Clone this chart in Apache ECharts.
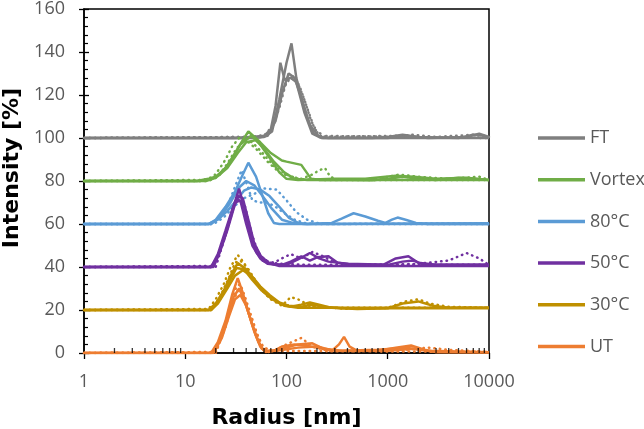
<!DOCTYPE html>
<html><head><meta charset="utf-8">
<script src="https://cdn.jsdelivr.net/npm/echarts@6/dist/echarts.min.js"></script>
<style>html,body{margin:0;padding:0;background:#fff}#c{width:644px;height:429px}</style>
</head><body><div id="c"></div>
<script>
// ---- Data (radius nm, plotted intensity incl. vertical offset) ----
const legendNames = ['FT','Vortex','80°C','50°C','30°C','UT'];
const xTicks = [1,10,100,1000,10000];
const minorTickPos = [2,3,4,5,6,7,8,9,20,30,40,50,60,70,80,90,200,300,400,500,600,700,800,900,2000,3000,4000,5000,6000,7000,8000,9000];

// FT (offset 100)
const ft_a = [[1,100],[30,100],[45,100.5],[60,101],[70,104],[78,115],[87,135],[96,127],[110,128],[125,126],[150,112],[180,102],[220,100],[700,100],[1000,100.5],[1400,101.5],[2000,100.5],[5000,100],[7000,101.5],[9000,101],[10000,100]];
const ft_b = [[1,100],[40,100],[60,100.5],[72,103],[85,118],[100,135],[112,144],[125,128],[150,113],[185,102],[230,100],[1000,100],[1500,101],[2500,100],[6000,100.5],[8000,102],[10000,100.5]];
const ft_c = [[1,100],[50,100],[65,101],[78,108],[92,122],[105,130],[120,128],[140,119],[170,106],[210,100.5],[260,100],[10000,100]];
const ft_d = [[1,100],[45,100.5],[62,101.5],[76,107],[90,120],[102,127],[118,129],[135,124],[160,114],[190,104],[240,100.5],[1200,101],[1800,101.5],[3000,100.5],[7000,101.5],[10000,100.5]];
const ft_e = [[1,100],[55,100.5],[70,103],[85,114],[98,125],[110,128],[128,126],[150,118],[175,108],[210,101],[10000,100]];

// Vortex (offset 80)
const vo_a = [[1,80],[13,80],[17,81],[20,82],[25,86],[31,93],[37,99],[42,103],[55,98],[70,93],[90,89.5],[100,89],[140,87.5],[175,81],[220,80.5],[400,80.5],[700,80.3],[1000,81],[1400,82],[2000,81],[3000,80.5],[5000,81.5],[7000,81],[10000,80.5]];
const vo_b = [[1,80],[14,80],[18,81],[22,83],[28,89],[35,97],[45,101],[55,97],[70,90],[85,84],[100,81],[130,80.5],[300,81],[600,81],[1200,82.5],[1800,82],[3000,81],[6000,81.5],[10000,80.5]];
const vo_c = [[1,80],[16,80],[20,81.5],[26,86],[33,93],[40,98],[50,99],[60,95],[75,89],[95,84],[120,81],[160,80.5],[10000,80.5]];
const vo_d = [[1,80],[15,80.5],[19,82],[22,86],[25,90],[29,96],[34,100],[40,99],[50,95],[65,89],[85,84],[110,82],[140,81],[180,83],[210,85],[240,86],[270,82],[320,80.5],[800,81],[1300,83],[2000,82],[4000,81],[8000,82],[10000,80.5]];
const vo_e = [[1,80],[17,80],[21,82],[26,88],[32,95],[38,99],[46,98],[58,93],[75,87],[100,83],[130,81],[200,80.5],[10000,80.5]];

// 80°C (offset 60)
const c80_a = [[1,60],[17,60],[20,62],[25,68],[31,75],[37,83],[42,88.5],[50,82],[58,73],[66,65],[75,60.5],[85,60],[10000,60]];
const c80_b = [[1,60],[17,60],[21,62],[26,66],[32,71],[38,75.5],[45,77],[55,76],[68,73],[85,68],[105,63],[130,60.5],[160,60],[280,60.5],[350,62.5],[460,65],[600,63.5],[800,61.5],[950,60.5],[1100,62],[1250,63],[1500,62],[1900,60.5],[2500,60],[10000,60]];
const c80_c = [[1,60],[18,60],[22,63],[28,70],[34,77],[40,80],[48,78],[58,73],[72,67],[90,62],[115,60.5],[150,60],[10000,60.3]];
const c80_d = [[1,60],[18,60],[22,63],[27,70],[32,79],[36,85],[41,78],[46,71],[55,70],[65,70],[78,68],[95,65],[120,62],[150,60.5],[200,60],[10000,60.3]];
const c80_e = [[1,60],[19,60],[24,63],[30,68],[38,72],[48,74],[60,76.5],[80,76],[100,71],[125,65.5],[160,62],[200,60.5],[260,60],[10000,60]];

// 50°C (offset 40)
const c50_a = [[1,40],[18,40],[21,45],[25,55],[29,66],[34,76.5],[38,68],[43,57],[50,47],[58,43],[70,41.5],[90,41],[110,42.5],[140,45],[170,43],[200,44.5],[260,45],[320,42],[450,41],[900,41],[1200,44],[1600,45],[2000,42],[3000,41],[10000,41]];
const c50_b = [[1,40],[18,40],[21,46],[25,57],[29,66.5],[31,70],[35,71],[40,60],[46,50],[55,44],[65,41.5],[80,41],[100,41],[130,43.5],[170,46.5],[210,44],[260,42.5],[400,41.5],[1000,41],[1400,42.5],[1800,43],[2300,41],[10000,41]];
const c50_c = [[1,40],[19,40],[22,47],[26,57],[30,67],[33,73],[37,72],[42,62],[48,51],[56,45],[66,42],[85,40.5],[10000,40.5]];
const c50_d = [[1,40],[19,40.5],[23,50],[27,60],[31,70],[34,74],[39,68],[45,56],[52,47],[62,43],[75,42],[90,44],[110,46],[140,44],[180,47],[230,45],[300,42],[500,41],[1000,41],[2000,41.5],[4000,43],[6000,46.5],[8000,44],[10000,41]];
const c50_e = [[1,40],[20,40],[24,52],[28,64],[32,71],[36,72],[40,64],[47,52],[55,45],[68,42],[90,41.5],[150,41],[10000,41]];

// 30°C (offset 20)
const c30_a = [[1,20],[17,20],[20,23],[24,29],[28,36],[33,41.8],[40,39],[50,33],[62,28],[75,25],[90,22.5],[110,21.5],[140,22.5],[170,23.5],[210,22.5],[280,21],[500,20.5],[1000,20.8],[1400,23],[2000,24],[2800,22],[4000,21],[10000,21]];
const c30_b = [[1,20],[18,20],[21,23],[26,30],[31,36],[37,38.5],[45,36],[55,31],[68,27],[85,23.5],[105,22],[140,21.5],[180,22.5],[230,21.5],[350,20.8],[10000,20.8]];
const c30_c = [[1,20],[18,20],[22,25],[27,33],[32,39.5],[38,39],[46,34],[57,29],[72,25],[95,22],[130,21],[10000,21]];
const c30_d = [[1,20],[17,20.5],[20,25],[24,32],[28,40],[33,45.6],[38,42],[45,36],[55,30],[70,25],[90,22],[110,26],[130,25],[170,22],[220,21.5],[400,20.5],[1000,21],[1500,24],[2000,25],[2600,23],[4000,21.5],[10000,21]];
const c30_e = [[1,20],[18,20],[22,26],[27,35],[31,42],[35,43],[42,39],[52,32],[65,26.5],[85,23],[120,21.5],[300,21],[10000,21]];

// UT (offset 0)
const ut_a = [[1,0],[18,0],[21,5],[25,15],[29,27],[33,34.8],[37,28],[42,19],[48,10],[55,3],[62,0.5],[75,1],[90,3],[120,4],[150,3.5],[200,2.5],[280,1],[330,4],[370,7.5],[420,3],[500,1],[800,1],[1200,2.5],[1700,3.5],[2300,1.5],[3000,0.5],[10000,0.3]];
const ut_b = [[1,0],[19,0],[22,6],[26,16],[30,26],[34,30],[38,25],[44,16],[50,8],[57,2],[66,0.5],[90,2],[130,4],[180,4.5],[230,2],[350,1],[800,1.5],[1500,2.5],[2500,1],[10000,0.3]];
const ut_c = [[1,0],[19,0],[23,7],[27,17],[31,25],[35,27],[40,22],[46,13],[53,5],[60,1],[80,1],[130,2.5],[200,3],[300,1],[1000,1],[1800,2],[3000,0.5],[10000,0.3]];
const ut_d = [[1,0],[20,0.5],[24,10],[28,22],[32,31],[35,32],[39,26],[45,17],[52,8],[60,2],[75,1],[100,4],[140,7],[180,3],[260,1],[500,0.8],[1500,1.5],[2500,2.5],[4000,1.5],[10000,0.5]];
const ut_e = [[1,0],[20,0],[25,12],[29,23],[33,29],[37,27],[42,20],[50,10],[58,3],[70,1],[10000,0.5]];

const solidSets = [[ft_a,ft_b,ft_c],[vo_a,vo_b,vo_c],[c80_a,c80_b,c80_c],[c50_a,c50_b,c50_c],[c30_a,c30_b,c30_c],[ut_a,ut_b,ut_c]];
const dottedSets = [[ft_d,ft_e],[vo_d,vo_e],[c80_d,c80_e],[c50_d,c50_e],[c30_d,c30_e],[ut_d,ut_e]];

// ---- Styles ----
const colors = ['#7f7f7f','#70ad47','#5b9bd5','#7030a0','#bf9000','#ed7d31'];
const series = [];
legendNames.forEach((nm, g) => {
  solidSets[g].forEach(d => series.push({
    name: nm, type: 'line', data: d, symbol: 'none', color: colors[g],
    lineStyle: {width: 2.5, color: colors[g]}, z: 3
  }));
  dottedSets[g].forEach(d => series.push({
    name: nm, type: 'line', data: d, symbol: 'none', color: colors[g],
    lineStyle: {width: 2.5, color: colors[g], type: [0.5, 5], cap: 'round'}, z: 3
  }));
});
series.push({
  type: 'scatter', data: minorTickPos.map(v => [v, 0]), symbol: 'rect',
  symbolSize: [1.3, 5], symbolOffset: [0, -2.5], itemStyle: {color: '#000'},
  silent: true, z: 4
});

const labelFont = {fontFamily: 'Open Sans', fontSize: 18, color: '#595959'};
const titleFont = {fontFamily: 'DejaVu Sans', fontWeight: 'bold', fontSize: 22, color: '#000'};

const chart = echarts.init(document.getElementById('c'));
chart.setOption({
  animation: false,
  backgroundColor: '#fff',
  grid: {left: 84, right: 155, top: 9, bottom: 76, containLabel: false, outerBoundsMode: 'none',
         show: true, borderColor: '#000', borderWidth: 1.5},
  legend: {
    data: legendNames, orient: 'vertical', left: 533, top: 121,
    icon: 'rect', itemWidth: 47, itemHeight: 3.5, itemGap: 17.7,
    textStyle: Object.assign({lineHeight: 24}, labelFont)
  },
  xAxis: {
    type: 'log', logBase: 10, min: xTicks[0], max: xTicks[xTicks.length - 1],
    name: 'Radius [nm]', nameLocation: 'middle', nameGap: 54, nameTextStyle: titleFont,
    axisLine: {lineStyle: {color: '#000', width: 1.5}},
    axisTick: {length: 6, lineStyle: {color: '#000', width: 1.3}},
    axisLabel: Object.assign({margin: 20, formatter: v => String(v)}, labelFont),
    splitLine: {show: false}, minorTick: {show: false}
  },
  yAxis: [{
    type: 'value', min: 0, max: 160, interval: 20,
    name: 'Intensity [%]', nameLocation: 'middle', nameGap: 56,
    nameTextStyle: Object.assign({padding: [0, 0, 0, 26]}, titleFont),
    axisLine: {lineStyle: {color: '#000', width: 1.5}},
    axisTick: {length: 5, lineStyle: {color: '#000', width: 1.3}},
    axisLabel: Object.assign({margin: 19}, labelFont),
    splitLine: {show: false}
  }, {
    type: 'value', min: 0, max: 160, interval: 20, position: 'left',
    axisLine: {show: false},
    axisTick: {show: true, inside: true, length: 5, lineStyle: {color: '#000', width: 1.3}},
    minorTick: {show: true, splitNumber: 5, length: 4, lineStyle: {color: '#000', width: 1.2}},
    axisLabel: {show: false}, splitLine: {show: false}
  }],
  series: series
});
</script></body></html>
